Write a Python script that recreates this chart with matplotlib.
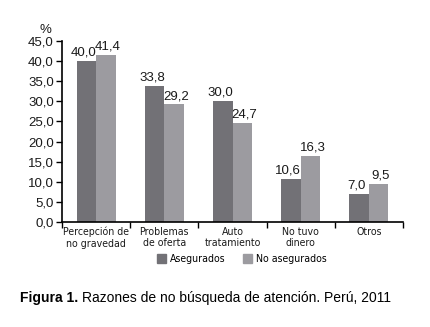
import matplotlib.pyplot as plt
import numpy as np
from matplotlib.patches import Patch

categories = ["Percepción de\nno gravedad", "Problemas\nde oferta", "Auto\ntratamiento", "No tuvo\ndinero", "Otros"]
asegurados = [40.0, 33.8, 30.0, 10.6, 7.0]
no_asegurados = [41.4, 29.2, 24.7, 16.3, 9.5]
yticks = np.arange(0, 46, 5)

dark = "#727176"
light = "#9c9ba0"

plt.rcParams['font.family'] = ['Liberation Sans', 'DejaVu Sans']
narrow = dict(family=['Liberation Sans Narrow', 'DejaVu Sans'], stretch='condensed')

fig = plt.figure(figsize=(4.31, 3.27), dpi=100)
ax = fig.add_axes([0.144, 0.321, 0.791, 0.554])

x = np.arange(len(categories))
w = 0.285
b1 = ax.bar(x - w / 2, asegurados, w, color=dark)
b2 = ax.bar(x + w / 2, no_asegurados, w, color=light)

def fmt(v):
    return f"{v:.1f}".replace(".", ",")

for bars, vals, dx in ((b1, asegurados, -0.04), (b2, no_asegurados, 0.03)):
    for rect, v in zip(bars, vals):
        ax.text(rect.get_x() + rect.get_width() / 2 + dx, v + 0.6, fmt(v),
                ha="center", va="bottom", fontsize=9.5, color="#1a1a1a")

ax.set_xlim(-0.5, len(categories) - 0.5)
ax.set_ylim(0, 45)
ax.set_yticks(yticks)
ax.set_yticklabels([fmt(v) for v in yticks], fontsize=9.5, color="#1a1a1a")
ax.tick_params(axis="y", direction="out", length=4, width=1, pad=2)

# category labels between boundary ticks
ax.set_xticks(np.arange(-0.5, len(categories), 1.0))
ax.set_xticklabels([])
ax.tick_params(axis="x", direction="out", length=4, width=1)
for i, c in enumerate(categories):
    ax.text(i, -1.2, c, ha="center", va="top", fontsize=7.6, linespacing=1.15,
            color="#1a1a1a", **narrow)

for s in ("top", "right"):
    ax.spines[s].set_visible(False)
ax.spines["left"].set_linewidth(1.2)
ax.spines["bottom"].set_linewidth(1.2)

ax.text(-0.74, 46.3, "%", ha="center", va="bottom", fontsize=9.5, color="#1a1a1a")

handles = [Patch(color=dark, label="Asegurados"), Patch(color=light, label="No asegurados")]
fig.legend(handles=handles, loc="center", bbox_to_anchor=(0.561, 0.207), ncol=2,
           frameon=False, prop=dict(size=7.6, **narrow),
           handlelength=0.9, handleheight=0.9, columnspacing=1.6, handletextpad=0.35)

fig.text(0.047, 0.088, "Figura 1.", fontsize=10, fontweight="bold", ha="left", va="center")
fig.text(0.19, 0.088, "Razones de no búsqueda de atención. Perú, 2011",
         fontsize=10, ha="left", va="center")

fig.savefig("out.png", dpi=100)
